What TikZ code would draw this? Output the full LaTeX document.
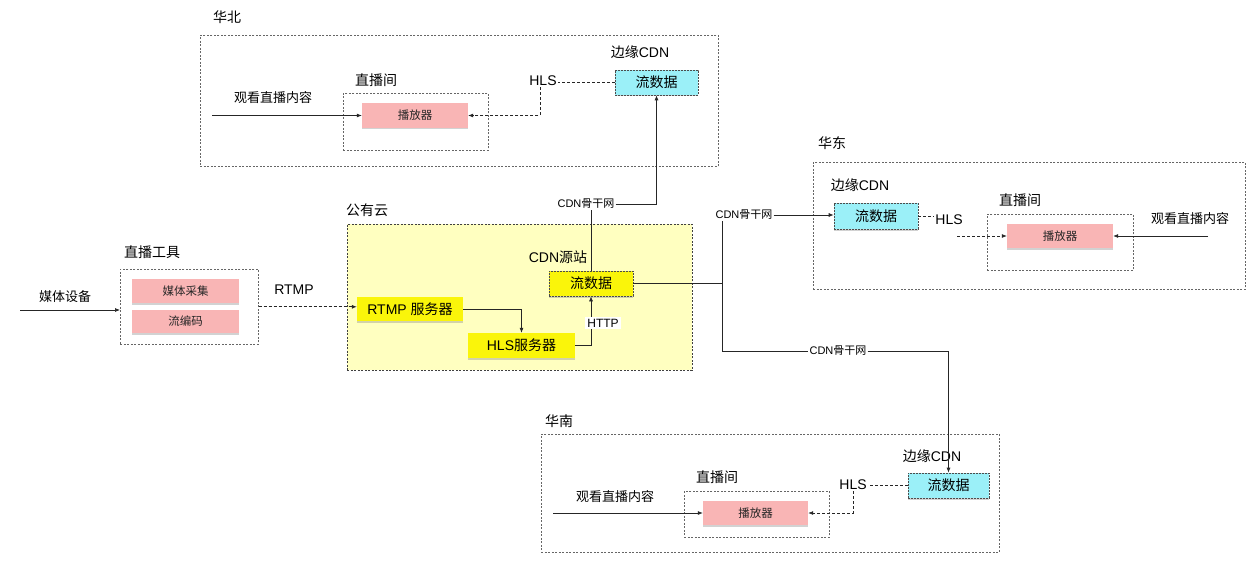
\documentclass[tikz,border=0pt]{standalone}
\usepackage{fontspec}
\setmainfont{Liberation Sans}
\newfontfamily\cjk{Noto Sans CJK SC}
\newcommand\zh[1]{{\cjk #1}}
\usetikzlibrary{arrows.meta,shadows}
\definecolor{pinkf}{RGB}{249,181,181}
\definecolor{cyanf}{RGB}{155,240,248}
\definecolor{lyel}{RGB}{255,255,192}
\definecolor{yelf}{RGB}{250,245,10}
\begin{document}
\begin{tikzpicture}[x=1pt,y=-1pt,
  region/.style={draw=black!60, line width=0.6pt, dash pattern=on 2pt off 1.5pt, anchor=north west, inner sep=0pt},
  lbl/.style={font=\fontsize{14}{16}\selectfont, inner sep=1pt, text=black},
  mid/.style={font=\fontsize{13}{15}\selectfont, inner sep=1pt, text=black},
  sml/.style={font=\fontsize{11}{13}\selectfont, inner sep=1pt, text=black, fill=white},
  shad/.style={drop shadow={shadow xshift=0pt, shadow yshift=-1.5pt, opacity=0.35}},
  pinkbox/.style={shad, fill=pinkf, inner sep=0pt, font=\fontsize{11.5}{13}\selectfont, text=black!85},
  cyanbox/.style={shad, fill=cyanf, draw=black!70, line width=0.7pt, dash pattern=on 2pt off 1pt, inner sep=0pt, font=\fontsize{14}{16}\selectfont},
  yelbox/.style={shad, fill=yelf, inner sep=0pt, font=\fontsize{14}{16}\selectfont},
  conn/.style={line width=0.7pt, draw=black!85},
  arr/.style={conn, -{Latex[length=5pt,width=4pt]}},
  dconn/.style={conn, dash pattern=on 3pt off 2pt},
  darr/.style={dconn, -{Latex[length=5pt,width=4pt]}}
]
\fill[white] (0,0) rectangle (1258,567);
\useasboundingbox (0,0) rectangle (1258,567);

% ---------------- 华北 ----------------
\node[lbl] (hbL) at (227,17) {\zh{华北}};
\node[region, minimum width=518, minimum height=131] (hb) at (200,35) {};
\node[region, minimum width=145, minimum height=57] (hbRoom) at (343,93) {};
\node[lbl] (hbRoomL) at (376,80) {\zh{直播间}};
\node[pinkbox, minimum width=106, minimum height=25] (hbP) at (415,115.5) {\zh{播放器}};
\node[mid] (hbW) at (273,98) {\zh{观看直播内容}};
\coordinate (hbIn) at (212,115.5);
\node[lbl] (hbCdnL) at (640,52) {\zh{边缘}CDN};
\node[cyanbox, minimum width=83, minimum height=25] (hbD) at (656.5,82.5) {\zh{流数据}};
\node[lbl] (hbH) at (543,81) {HLS};
\draw[arr] (hbIn) -- (hbP.west);
\draw[dconn] (hbD.west) -- (hbD.west -| hbH.east);
\draw[darr] (hbH.south -| 540,0) |- (hbP.east);

% ---------------- 公有云 ----------------
\node[lbl] (cloudL) at (367,210) {\zh{公有云}};
\node[region, fill=lyel, draw=black!75, minimum width=345, minimum height=146] (cloud) at (347,224) {};
\node[lbl] (srcL) at (558,257) {CDN\zh{源站}};
\node[yelbox, draw=black!70, line width=0.7pt, dash pattern=on 2pt off 1pt, minimum width=84, minimum height=25] (srcD) at (591,283.5) {\zh{流数据}};
\node[yelbox, minimum width=106, minimum height=24] (rtmpS) at (410,309) {RTMP \zh{服务器}};
\node[yelbox, minimum width=107, minimum height=25] (hlsS) at (521.5,345.5) {HLS\zh{服务器}};
\draw[arr] (rtmpS.east) -| (hlsS.north);
\draw[arr] (hlsS.east) -| (srcD.south);
\node[font=\fontsize{12}{14}\selectfont, fill=white, inner sep=2pt, text=black] (http) at (603,323) {HTTP};

% ---------------- 直播工具 ----------------
\node[lbl] (toolL) at (152,252) {\zh{直播工具}};
\node[region, minimum width=138, minimum height=75] (tool) at (120,269) {};
\node[pinkbox, minimum width=107, minimum height=24] (cap) at (185.5,291) {\zh{媒体采集}};
\node[pinkbox, minimum width=107, minimum height=23] (enc) at (185.5,321.5) {\zh{流编码}};
\node[mid] (devL) at (65,297) {\zh{媒体设备}};
\coordinate (devIn) at (20,310);
\draw[arr] (devIn) -- (devIn -| tool.west);
\node[lbl] (rtmpL) at (294,290) {RTMP};
\draw[darr] (tool.east) -- (tool.east -| rtmpS.west);

% ---------------- backbone ----------------
\node[sml] (bb1) at (586,204) {CDN\zh{骨干网}};
\draw[conn] (srcD.north) -- (srcD.north |- bb1.south);
\draw[arr] (bb1.east) -| (hbD.south);

\coordinate (jn) at (722,283.5);
\draw[conn] (srcD.east) -- (jn);
\node[sml] (bb2) at (744,215) {CDN\zh{骨干网}};
\draw[conn] (jn) -- (jn |- bb2.south);

% ---------------- 华东 ----------------
\node[lbl] (heL) at (832,143) {\zh{华东}};
\node[region, minimum width=432, minimum height=127] (he) at (813,162) {};
\node[lbl] (heCdnL) at (860,185) {\zh{边缘}CDN};
\node[cyanbox, minimum width=84, minimum height=26] (heD) at (876,216) {\zh{流数据}};
\draw[arr] (bb2.east) -- (bb2.east -| heD.west);
\node[lbl] (heH) at (949,220) {HLS};
\draw[dconn] (heD.east) -- (heH.west |- heD.east);
\node[region, minimum width=146, minimum height=56] (heRoom) at (987,214) {};
\node[lbl] (heRoomL) at (1020,200) {\zh{直播间}};
\node[pinkbox, minimum width=106, minimum height=24] (heP) at (1060,236) {\zh{播放器}};
\coordinate (heHin) at (957,236);
\draw[darr] (heHin) -- (heP.west);
\node[mid] (heW) at (1190,219) {\zh{观看直播内容}};
\coordinate (heIn) at (1208,236);
\draw[arr] (heIn) -- (heP.east);

% ---------------- 华南 ----------------
\node[sml] (bb3) at (838,351) {CDN\zh{骨干网}};
\draw[conn] (jn) |- (bb3.west);
\node[lbl] (hnL) at (559,421) {\zh{华南}};
\node[region, minimum width=458, minimum height=118] (hn) at (541,434) {};
\node[lbl] (hnCdnL) at (932,456) {\zh{边缘}CDN};
\node[cyanbox, minimum width=81, minimum height=25] (hnD) at (948.5,485.5) {\zh{流数据}};
\draw[arr] (bb3.east) -| (hnD.north);
\node[lbl] (hnH) at (853,485) {HLS};
\draw[dconn] (hnD.west) -- (hnD.west -| hnH.east);
\node[region, minimum width=145, minimum height=46] (hnRoom) at (684,491) {};
\node[lbl] (hnRoomL) at (717,477) {\zh{直播间}};
\node[pinkbox, minimum width=105, minimum height=24] (hnP) at (755.5,513) {\zh{播放器}};
\draw[darr] (hnH.south) |- (hnP.east);
\node[mid] (hnW) at (615,497) {\zh{观看直播内容}};
\coordinate (hnIn) at (553,513);
\draw[arr] (hnIn) -- (hnP.west);
\end{tikzpicture}
\end{document}
